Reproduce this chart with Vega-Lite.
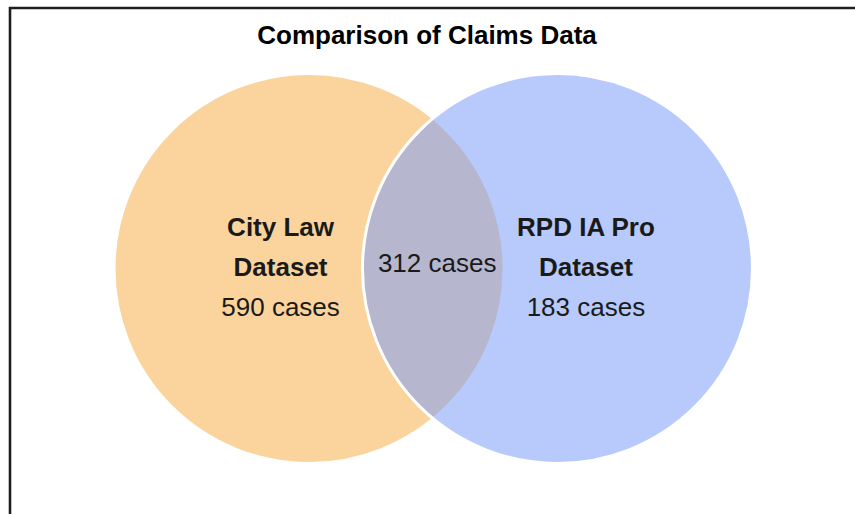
{
  "$schema": "https://vega.github.io/schema/vega-lite/v6.json",
  "autosize": "none",
  "padding": {"left": 10, "top": 8, "right": 0, "bottom": 0},
  "width": 900,
  "height": 560,
  "background": "white",
  "view": {"stroke": "#1e1e1e", "strokeWidth": 2.6, "fill": "white"},
  "title": {
    "text": "Comparison of Claims Data",
    "font": "Liberation Sans",
    "fontSize": 26,
    "fontWeight": "bold",
    "color": "#000000",
    "anchor": "middle",
    "frame": "group",
    "dx": -33,
    "offset": -41
  },
  "datasets": {
    "sets": [
      {"set": "City Law Dataset", "x": -0.637, "y": 0},
      {"set": "RPD IA Pro Dataset", "x": 0.637, "y": 0}
    ],
    "names": [
      {"line": "City Law", "x": -0.783, "y": 0.167},
      {"line": "Dataset", "x": -0.783, "y": -0.038},
      {"line": "RPD IA Pro", "x": 0.783, "y": 0.167},
      {"line": "Dataset", "x": 0.783, "y": -0.038}
    ],
    "counts": [
      {"region": "City Law only", "cases": 590, "label": "590 cases", "x": -0.783, "y": -0.244},
      {"region": "Both", "cases": 312, "label": "312 cases", "x": 0.02, "y": -0.016},
      {"region": "RPD IA Pro only", "cases": 183, "label": "183 cases", "x": 0.783, "y": -0.244}
    ]
  },
  "layer": [
    {
      "data": {"name": "sets"},
      "mark": {"type": "circle", "size": 152100, "opacity": 1, "stroke": "white", "strokeWidth": 3, "strokeOpacity": 1, "clip": true},
      "encoding": {
        "x": {"field": "x", "type": "quantitative", "scale": {"domain": [-2.1705, 2.4449], "nice": false, "zero": false}, "axis": null},
        "y": {"field": "y", "type": "quantitative", "scale": {"domain": [-1.5359, 1.3359], "nice": false, "zero": false}, "axis": null},
        "color": {"field": "set", "type": "nominal", "scale": {"domain": ["City Law Dataset", "RPD IA Pro Dataset"], "range": ["#FAD49C", "#7E9FF8"]}, "legend": null},
        "fillOpacity": {"field": "set", "type": "nominal", "scale": {"domain": ["City Law Dataset", "RPD IA Pro Dataset"], "range": [1, 0.55]}, "legend": null}
      }
    },
    {
      "data": {"name": "names"},
      "mark": {"type": "text", "font": "Liberation Sans", "fontSize": 26, "fontWeight": "bold", "color": "#1a1a1a", "align": "center", "baseline": "alphabetic"},
      "encoding": {
        "x": {"field": "x", "type": "quantitative"},
        "y": {"field": "y", "type": "quantitative"},
        "text": {"field": "line"}
      }
    },
    {
      "data": {"name": "counts"},
      "mark": {"type": "text", "font": "Liberation Sans", "fontSize": 26, "color": "#1a1a1a", "align": "center", "baseline": "alphabetic"},
      "encoding": {
        "x": {"field": "x", "type": "quantitative"},
        "y": {"field": "y", "type": "quantitative"},
        "text": {"field": "label"}
      }
    }
  ]
}
